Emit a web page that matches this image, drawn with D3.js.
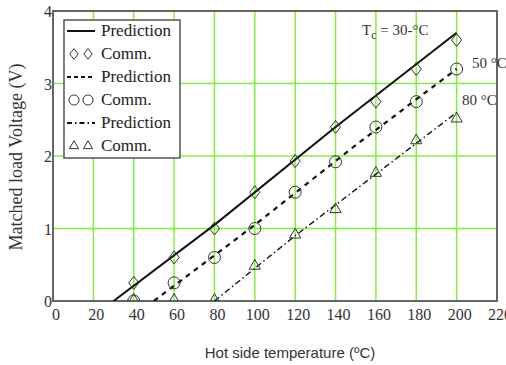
<!DOCTYPE html>
<html>
<head>
<meta charset="utf-8">
<script src="https://cdn.jsdelivr.net/npm/d3@7"></script>
<style>
body { margin: 0; background: #fff; }
</style>
</head>
<body>
<div id="chart"></div>
<script>
// data
const temps = [40, 60, 80, 100, 120, 140, 160, 180, 200];
const comm30 = [0.25, 0.6, 1.0, 1.5, 1.93, 2.4, 2.75, 3.2, 3.6];
const comm50 = [0, 0.25, 0.6, 1.0, 1.5, 1.92, 2.4, 2.75, 3.2];
const comm80 = [0, 0, 0, 0.47, 0.9, 1.25, 1.75, 2.2, 2.5];
const pred30 = [[30, 0], [80, 1.05], [140, 2.4], [200, 3.7]];
const pred50 = [[50, 0], [100, 1.05], [150, 2.15], [200, 3.2]];
const pred80 = [[80, 0], [100, 0.45], [120, 0.9], [160, 1.75], [200, 2.6]];
const xTicks = [0, 20, 40, 60, 80, 100, 120, 140, 160, 180, 200, 220];
const yTicks = [0, 1, 2, 3, 4];
const legendLabels = ["Prediction", "Comm.", "Prediction", "Comm.", "Prediction", "Comm."];

const width = 506, height = 365;
const pLeft = 53, pRight = 497, pTop = 11, pBottom = 301;
const serif = "'Liberation Serif', 'Times New Roman', serif";

const svg = d3.select("#chart").append("svg")
    .attr("width", width)
    .attr("height", height);

const x = d3.scaleLinear().domain([0, 220]).range([pLeft, pRight]);
const y = d3.scaleLinear().domain([0, 4]).range([pBottom, pTop]);

svg.append("defs").append("clipPath").attr("id", "clip")
  .append("rect")
    .attr("x", pLeft).attr("y", pTop)
    .attr("width", pRight - pLeft).attr("height", pBottom - pTop);

// grid
svg.append("g")
  .selectAll("line")
  .data(xTicks.slice(1, -1))
  .join("line")
    .attr("x1", d => x(d)).attr("x2", d => x(d))
    .attr("y1", pTop).attr("y2", pBottom)
    .style("stroke", "#80f040")
    .style("stroke-width", 1.5);
svg.append("g")
  .selectAll("line")
  .data(yTicks.slice(1, -1))
  .join("line")
    .attr("y1", d => y(d)).attr("y2", d => y(d))
    .attr("x1", pLeft).attr("x2", pRight)
    .style("stroke", "#80f040")
    .style("stroke-width", 1.5);

// frame
svg.append("rect")
    .attr("x", pLeft).attr("y", pTop)
    .attr("width", pRight - pLeft).attr("height", pBottom - pTop)
    .style("fill", "none")
    .style("stroke", "#666")
    .style("stroke-width", 2);

// tick labels
svg.append("g")
  .selectAll("text")
  .data(xTicks)
  .join("text")
    .attr("x", d => x(d) + 3)
    .attr("y", pBottom + 19)
    .attr("text-anchor", "middle")
    .style("font-family", serif)
    .style("font-size", "16px")
    .style("fill", "#333")
    .text(d => d);
svg.append("g")
  .selectAll("text")
  .data(yTicks)
  .join("text")
    .attr("x", pLeft - 1)
    .attr("y", d => y(d) + 6)
    .attr("text-anchor", "end")
    .style("font-family", serif)
    .style("font-size", "16px")
    .style("fill", "#333")
    .text(d => d);

// axis titles
svg.append("text")
    .attr("transform", "translate(22,157) rotate(-90)")
    .attr("text-anchor", "middle")
    .style("font-family", serif)
    .style("font-size", "18px")
    .style("fill", "#333")
    .text("Matched load Voltage (V)");
svg.append("text")
    .attr("x", 290).attr("y", 358)
    .attr("text-anchor", "middle")
    .style("font", "15px 'Liberation Sans', Arial, sans-serif")
    .style("fill", "#333")
    .text("Hot side temperature (ºC)");

const plot = svg.append("g").attr("clip-path", "url(#clip)");

const line = d3.line().x(d => x(d[0])).y(d => y(d[1]));
const styles = [
  {data: pred30, dash: null, w: 2},
  {data: pred50, dash: "5,5", w: 2.2},
  {data: pred80, dash: "6,3,1.5,3", w: 1.4}
];
styles.forEach(s => {
  plot.append("path")
      .datum(s.data)
      .attr("d", line)
      .style("fill", "none")
      .style("stroke", "#111")
      .style("stroke-width", s.w)
      .style("stroke-dasharray", s.dash);
});

// diamond a bit taller than wide, like the reference
const tallDiamond = {
  draw(ctx, size) {
    const h = Math.sqrt(size) * 0.72, w = h * 0.78;
    ctx.moveTo(0, -h); ctx.lineTo(w, 0); ctx.lineTo(0, h); ctx.lineTo(-w, 0); ctx.closePath();
  }
};
const symDiamond = d3.symbol().type(tallDiamond).size(80);
const symCircle = d3.symbol().type(d3.symbolCircle).size(113);
const symTriangle = d3.symbol().type(d3.symbolTriangle2).size(90);

function markers(vals, sym, dy) {
  plot.append("g")
    .selectAll("path")
    .data(vals.map((v, i) => [temps[i], v]))
    .join("path")
      .attr("transform", d => "translate(" + x(d[0]) + "," + (y(d[1]) + dy) + ")")
      .attr("d", sym)
      .style("fill", "none")
      .style("stroke", "#333")
      .style("stroke-width", 1);
}
markers(comm30, symDiamond, 0);
markers(comm50, symCircle, 0);
markers(comm80, symTriangle, -1);

// annotations
const ann = svg.append("g")
    .style("font-family", serif)
    .style("font-size", "15px")
    .style("fill", "#333");
const tc = ann.append("text").attr("x", 362).attr("y", 35);
tc.append("tspan").text("T");
tc.append("tspan").attr("dy", 4).style("font-size", "12px").text("c");
tc.append("tspan").attr("dy", -4).text(" = 30-°C");
ann.append("text").attr("x", 472).attr("y", 68).text("50 °C");
ann.append("text").attr("x", 462).attr("y", 105).text("80 °C");

// legend
const lg = svg.append("g");
lg.append("rect")
    .attr("x", 64).attr("y", 20)
    .attr("width", 116).attr("height", 138)
    .style("fill", "#fff")
    .style("stroke", "#555")
    .style("stroke-width", 1.5);
const dashes = [null, "4,3", "5,3,1.5,3"];
const legendSyms = [tallDiamond, d3.symbolCircle, d3.symbolTriangle2];
const legendSizes = [55, 80, 60];
legendLabels.forEach((lab, i) => {
  const cy = 31 + i * 23;
  const k = Math.floor(i / 2);
  if (i % 2 === 0) {
    lg.append("line")
        .attr("x1", 67).attr("x2", 95)
        .attr("y1", cy).attr("y2", cy)
        .style("stroke", "#111")
        .style("stroke-width", 2)
        .style("stroke-dasharray", dashes[k]);
  } else {
    [74, 88].forEach(cx => {
      lg.append("path")
          .attr("transform", "translate(" + cx + "," + cy + ")")
          .attr("d", d3.symbol().type(legendSyms[k]).size(legendSizes[k]))
          .style("fill", "none")
          .style("stroke", "#333")
          .style("stroke-width", 1);
    });
  }
  lg.append("text")
      .attr("x", 101).attr("y", cy + 5)
      .style("font-family", serif)
      .style("font-size", "17px")
      .style("fill", "#222")
      .text(lab);
});
</script>
</body>
</html>
